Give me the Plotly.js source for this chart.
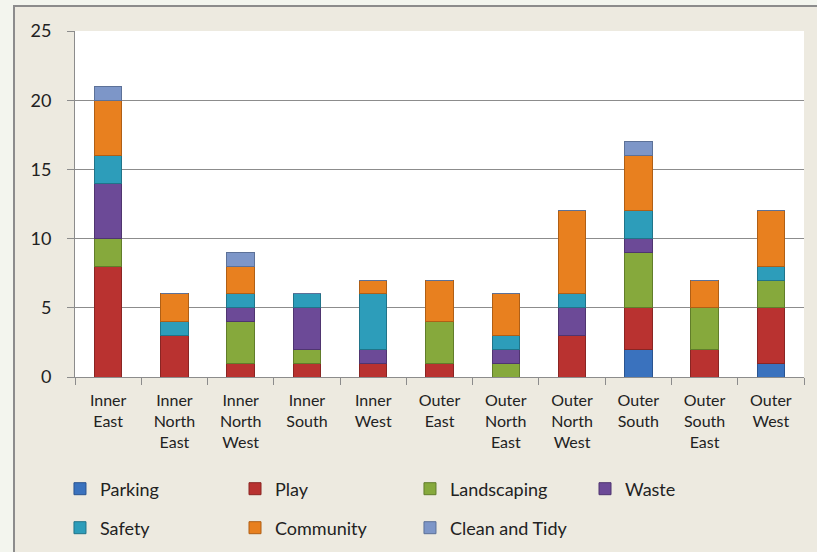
<!DOCTYPE html>
<html>
<head>
<meta charset="utf-8">
<script src="https://cdn.plot.ly/plotly-3.0.1.min.js"></script>
<style>
  html, body { margin: 0; padding: 0; background: #F3F5EE; width: 817px; height: 552px; overflow: hidden; }
  #frame { position: absolute; left: 13px; top: 5px; width: 802px; height: 545px;
           border-left: 2px solid #8C8C8C; border-top: 2px solid #8C8C8C; background: #EDEAE0; }
  #chart { width: 802px; height: 545px; }
</style>
</head>
<body>
<div id="frame"><div id="chart"></div></div>
<script>
const categories = ["Inner<br>East", "Inner<br>North<br>East", "Inner<br>North<br>West", "Inner<br>South",
  "Inner<br>West", "Outer<br>East", "Outer<br>North<br>East", "Outer<br>North<br>West",
  "Outer<br>South", "Outer<br>South<br>East", "Outer<br>West"];

const parking     = [0, 0, 0, 0, 0, 0, 0, 0, 2, 0, 1];
const play        = [8, 3, 1, 1, 1, 1, 0, 3, 3, 2, 4];
const landscaping = [2, 0, 3, 1, 0, 3, 1, 0, 4, 3, 2];
const waste       = [4, 0, 1, 3, 1, 0, 1, 2, 1, 0, 0];
const safety      = [2, 1, 1, 1, 4, 0, 1, 1, 2, 0, 1];
const community   = [4, 2, 2, 0, 1, 3, 3, 6, 4, 2, 4];
const cleanTidy   = [1, 0, 1, 0, 0, 0, 0, 0, 1, 0, 0];

const seriesNames = ["Parking", "Play", "Landscaping", "Waste", "Safety", "Community", "Clean and Tidy"];
const seriesValues = [parking, play, landscaping, waste, safety, community, cleanTidy];
const fillColors = ["#3A72BE", "#B93230", "#86A93C", "#6C4A97", "#2D9DBA", "#E8801F", "#7D96C8"];
const lineColors = ["#2A5490", "#8A2523", "#617D2A", "#4F3570", "#207489", "#B05F15", "#5C7198"];

// legend grid: 4 columns, 2 rows
const legendCols = [-0.0206, 0.2195, 0.4595, 0.6996];
const legendRows = [-0.3237, -0.4364];

const font = "Lato, 'Open Sans', sans-serif";

const traces = seriesNames.map((name, i) => ({
  type: "bar",
  name: name,
  x: categories,
  y: seriesValues[i],
  legend: i === 0 ? "legend" : "legend" + (i + 1),
  marker: { color: fillColors[i], line: { color: lineColors[i], width: 1 } },
  hoverinfo: "x+y+name"
}));

const layout = {
  width: 802,
  height: 545,
  margin: { l: 60, r: 13, t: 24, b: 175, autoexpand: false },
  paper_bgcolor: "#EDEAE0",
  plot_bgcolor: "#FFFFFF",
  barmode: "stack",
  bargap: 0.585,
  font: { family: font, color: "#222222" },
  xaxis: {
    type: "category",
    showline: true, linecolor: "#8C8C8C", linewidth: 1,
    ticks: "outside", tickson: "boundaries", ticklen: 7, tickcolor: "#8C8C8C",
    tickfont: { family: font, size: 16, color: "#222222" },
    ticklabelstandoff: 9,
    showgrid: false,
    automargin: false,
    fixedrange: true
  },
  yaxis: {
    range: [0, 25], dtick: 5,
    showline: true, linecolor: "#8C8C8C", linewidth: 1,
    ticks: "outside", ticklen: 7, tickcolor: "#8C8C8C",
    gridcolor: "#8C8C8C", gridwidth: 1,
    zeroline: false,
    tickfont: { family: font, size: 18, color: "#222222" },
    ticklabelstandoff: 12,
    automargin: false,
    fixedrange: true
  },
  showlegend: true
};

seriesNames.forEach((name, i) => {
  const key = i === 0 ? "legend" : "legend" + (i + 1);
  layout[key] = {
    orientation: "h",
    xanchor: "left",
    yanchor: "middle",
    x: legendCols[i % 4],
    y: legendRows[Math.floor(i / 4)],
    bgcolor: "rgba(0,0,0,0)",
    font: { family: font, size: 18, color: "#222222" },
    itemwidth: 30
  };
});

Plotly.newPlot("chart", traces, layout, { displayModeBar: false, staticPlot: true });
</script>
</body>
</html>
